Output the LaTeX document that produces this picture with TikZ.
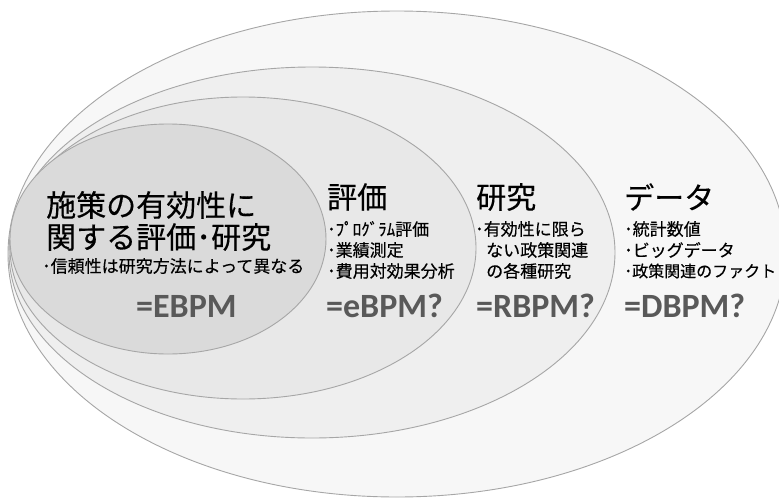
\documentclass[tikz,border=0pt]{standalone}
\usepackage{fontspec}
\usetikzlibrary{shapes.geometric}
\newfontfamily\jpfont[FakeBold=0.35]{Noto Sans CJK JP}
\newfontfamily\latfont{Carlito}
\definecolor{edgegray}{HTML}{A6A6A6}
\definecolor{fillA}{HTML}{DADADA}
\definecolor{fillB}{HTML}{E8E8E8}
\definecolor{fillC}{HTML}{EFEFEF}
\definecolor{fillD}{HTML}{F7F7F7}
\definecolor{bpmgray}{HTML}{595959}
\begin{document}
\begin{tikzpicture}[x=1pt,y=-1pt,
  ring/.style={ellipse, draw=edgegray, line width=0.9pt, inner sep=0pt},
  bigtxt/.style={anchor=west, inner sep=0pt, font=\jpfont\fontsize{30}{34}\selectfont},
  smalltxt/.style={anchor=west, inner sep=0pt, font=\jpfont\fontsize{17}{20}\selectfont},
  bpm/.style={anchor=west, inner sep=0pt, text=bpmgray, font=\latfont\bfseries\fontsize{34}{38}\selectfont}]
\useasboundingbox (0,0) rectangle (779,498);
\clip (0,0) rectangle (779,498);
% nested ellipses
\node[ring, fill=fillD, minimum width=778pt, minimum height=486pt] (eD) at (397,254) {};
\node[ring, fill=fillC, minimum width=606pt, minimum height=371pt] (eC) at (312,252.5) {};
\node[ring, fill=fillB, minimum width=466pt, minimum height=302pt] (eB) at (243,248) {};
\node[ring, fill=fillA, minimum width=316pt, minimum height=230pt] (eA) at (168,239) {};
% innermost texts
\node[bigtxt] (a1) at (46,205) {施策の有効性に};
\node[bigtxt] (a2) at (46,237) {関する評価･研究};
\node[smalltxt] (a3) at (42,266) {･信頼性は研究方法によって異なる};
\node[bpm] (a4) at (136,306) {=EBPM};
% evaluation
\node[bigtxt] (b1) at (327,197) {評価};
\node[smalltxt] (b2) at (327,229) {･ﾌﾟﾛｸﾞﾗﾑ評価};
\node[smalltxt] (b3) at (327,250) {･業績測定};
\node[smalltxt] (b4) at (327,271) {･費用対効果分析};
\node[bpm] (b5) at (326,306) {=eBPM?};
% research
\node[bigtxt] (c1) at (476,197) {研究};
\node[smalltxt] (c2) at (475,229) {･有効性に限ら};
\node[smalltxt] (c3) at (486,250) {ない政策関連};
\node[smalltxt] (c4) at (486,271) {の各種研究};
\node[bpm] (c5) at (476,306) {=RBPM?};
% data
\node[bigtxt] (d1) at (624,197) {データ};
\node[smalltxt] (d2) at (624,229) {･統計数値};
\node[smalltxt] (d3) at (624,250) {･ビッグデータ};
\node[smalltxt, font=\jpfont\fontsize{16}{19}\selectfont] (d4) at (624,271) {･政策関連のファクト};
\node[bpm] (d5) at (624,306) {=DBPM?};
\end{tikzpicture}
\end{document}
